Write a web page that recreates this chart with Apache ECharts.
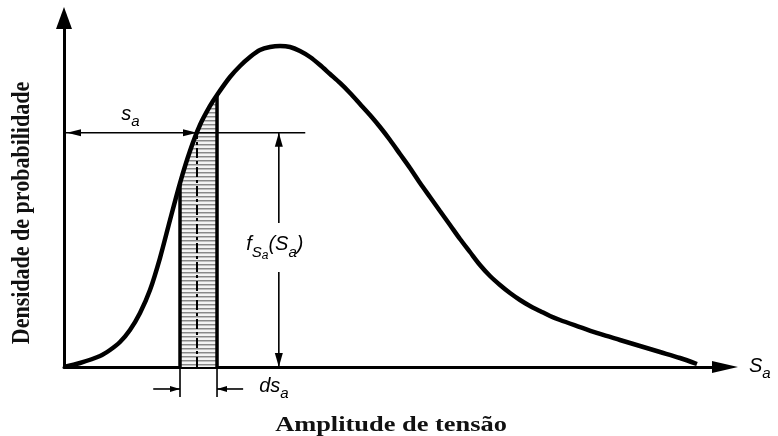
<!DOCTYPE html>
<html>
<head>
<meta charset="utf-8">
<script src="https://cdn.jsdelivr.net/npm/echarts@6/dist/echarts.min.js"></script>
<style>
html, body { margin: 0; padding: 0; background: #fff; }
#main { width: 778px; height: 436px; }
</style>
</head>
<body>
<div id="main"></div>
<script>
// curva de densidade (x = amplitude, y = densidade, escala 0..100)
var curveX = [0, 2.42, 5.45, 6.96, 8.47, 9.98, 11.50, 13.01, 14.52, 16.04, 17.55, 19.06, 20.57, 22.09, 23.15, 25.11, 26.63, 28.14, 29.65, 31.16, 32.68, 34.19, 35.70, 37.22, 38.73, 40.24, 41.75, 43.27, 44.78, 46.29, 47.81, 49.32, 50.83, 52.34, 53.86, 55.37, 56.88, 58.40, 59.91, 61.42, 62.93, 64.45, 65.96, 67.47, 68.99, 70.50, 72.01, 73.53, 75.04, 78.06, 81.09, 84.11, 87.14, 90.17, 93.19, 95.76];
var curveY = [0, 1.15, 3.15, 4.87, 7.16, 10.60, 15.47, 22.06, 31.23, 42.12, 52.72, 61.89, 69.34, 74.79, 77.94, 83.09, 86.25, 88.83, 90.83, 91.69, 91.98, 91.69, 90.54, 88.83, 86.53, 83.95, 81.38, 78.51, 75.36, 72.21, 68.77, 65.04, 61.03, 57.02, 52.72, 48.71, 44.70, 40.69, 36.68, 32.95, 29.23, 26.07, 23.50, 21.20, 19.20, 17.48, 16.05, 14.61, 13.47, 11.46, 9.46, 7.74, 6.02, 4.30, 2.58, 0.86];

// faixa ds_a e ponto s_a
var stripX = [17.55, 23.15];
var sampleX = [20.12];
var sampleY = [67.1];
var levelEnd = [36.5];     // fim da linha horizontal
var fArrowX = [32.5];      // seta vertical f(Sa)
var belowAxis = [-8.6, -6.3]; // fim das linhas de cota / nivel das setas
var dimArrowX = [13.5, 27.1];

var curve = curveX.map(function (x, i) { return [x, curveY[i]]; });
var strip = curve.filter(function (p) { return p[0] >= stripX[0] && p[0] <= stripX[1]; });

function curveAt(x) {
  return curveY[curveX.indexOf(x)];
}

// hachura horizontal
var pat = document.createElement('canvas');
pat.width = 4; pat.height = 4;
var pc = pat.getContext('2d');
pc.fillStyle = '#f3f3f3'; pc.fillRect(0, 0, 4, 4);
pc.fillStyle = '#888888'; pc.fillRect(0, 0, 4, 1);
pc.fillStyle = '#c0c0c0'; pc.fillRect(0, 1, 4, 1);

var mathFont = 'Liberation Sans';
var rich = {
  i: { fontFamily: mathFont, fontStyle: 'italic', fontSize: 20, lineHeight: 22, verticalAlign: 'top', color: '#000' },
  s: { fontFamily: mathFont, fontStyle: 'italic', fontSize: 15, lineHeight: 16, verticalAlign: 'top', padding: [10, 0, 0, 0], color: '#000' },
  ss: { fontFamily: mathFont, fontStyle: 'italic', fontSize: 12, lineHeight: 13, verticalAlign: 'top', padding: [15, 0, 0, 0], color: '#000' }
};

function seg(a, b, w, dash) {
  return { type: 'line', shape: { x1: a[0], y1: a[1], x2: b[0], y2: b[1] },
    style: { stroke: '#000', lineWidth: w, lineDash: dash || null } };
}
function head(tip, dx, dy, len, half) {
  var bx = tip[0] - dx * len, by = tip[1] - dy * len;
  return { type: 'polygon', shape: { points: [[tip[0], tip[1]], [bx - dy * half, by + dx * half], [bx + dy * half, by - dx * half]] },
    style: { fill: '#000' } };
}
function label(txt, x, y, align) {
  return { type: 'text', x: x, y: y,
    style: { text: txt, rich: rich, align: align, textAlign: align, verticalAlign: 'middle', textVerticalAlign: 'middle' } };
}

function drawNotes(params, api) {
  var c = api.coord;
  var kids = [];
  // bordas da faixa
  for (var k = 0; k < 2; k++) {
    var top = c([stripX[k], curveAt(stripX[k])]);
    var base = c([stripX[k], 0]);
    var low = c([stripX[k], belowAxis[0]]);
    kids.push(seg(base, top, 3.5));
    kids.push(seg(base, low, 1.6));
  }
  // traco-ponto
  kids.push(seg(c([sampleX[0], 0]), c([sampleX[0], sampleY[0]]), 2, [10, 3, 3, 3]));
  // linha s_a
  var l0 = c([0, sampleY[0]]), l1 = c([levelEnd[0], sampleY[0]]), ls = c([sampleX[0], sampleY[0]]);
  kids.push(seg(l0, l1, 1.6));
  kids.push(head([l0[0] + 3, l0[1]], -1, 0, 14, 3.5));
  kids.push(head(ls, 1, 0, 14, 3.5));
  kids.push(label('{i|s}{s|a}', (l0[0] + ls[0]) / 2, l0[1] - 17, 'center'));
  // seta f(Sa)
  var fTop = c([fArrowX[0], sampleY[0]]), fBot = c([fArrowX[0], 0]);
  var mid = (fTop[1] + fBot[1]) / 2;
  kids.push(seg(fTop, [fTop[0], mid - 27], 1.6));
  kids.push(seg([fBot[0], mid + 22], fBot, 1.6));
  kids.push(head(fTop, 0, -1, 14, 4));
  kids.push(head(fBot, 0, 1, 14, 4));
  kids.push(label('{i|f}{s|S}{ss|a}{i|(S}{s|a}{i|)}', fTop[0] - 4, mid - 4, 'center'));
  // cotas ds_a
  var dl = c([dimArrowX[0], belowAxis[1]]), dr = c([dimArrowX[1], belowAxis[1]]);
  var sl = c([stripX[0], belowAxis[1]]), sr = c([stripX[1], belowAxis[1]]);
  kids.push(seg(dl, sl, 1.6));
  kids.push(head(sl, 1, 0, 10, 3));
  kids.push(seg(dr, sr, 1.6));
  kids.push(head(sr, -1, 0, 10, 3));
  kids.push(label('{i|ds}{s|a}', dr[0] + 16, dr[1] - 2, 'left'));
  return { type: 'group', children: kids };
}

var chart = echarts.init(document.getElementById('main'));
var option = {
  animation: false,
  grid: { left: 64, right: 53, top: 18, bottom: 69, containLabel: false, outerBoundsMode: 'none' },
  xAxis: {
    type: 'value', min: 0, max: 100,
    axisLine: { show: true, symbol: ['none', 'triangle'], symbolSize: [12, 26], lineStyle: { color: '#000', width: 3 } },
    axisTick: { show: false }, axisLabel: { show: false }, splitLine: { show: false },
    name: '{i|S}{s|a}', nameLocation: 'end', nameGap: 24,
    nameTextStyle: { rich: rich, verticalAlign: 'middle' }
  },
  yAxis: {
    type: 'value', min: 0, max: 100,
    axisLine: { show: true, symbol: ['none', 'triangle'], symbolSize: [16, 22], lineStyle: { color: '#000', width: 3 } },
    axisTick: { show: false }, axisLabel: { show: false }, splitLine: { show: false }
  },
  graphic: [
    { type: 'text', x: 391, y: 425, scaleX: 1.2,
      style: { text: 'Amplitude de tensão', font: 'bold 22px "Liberation Serif"', fill: '#111',
        align: 'center', textAlign: 'center', verticalAlign: 'middle', textVerticalAlign: 'middle' } },
    { type: 'text', x: 22, y: 213, rotation: Math.PI / 2, scaleY: 1.17,
      style: { text: 'Densidade de probabilidade', font: 'bold 22px "Liberation Serif"', fill: '#111',
        align: 'center', textAlign: 'center', verticalAlign: 'middle', textVerticalAlign: 'middle' } }
  ],
  series: [
    {
      type: 'line', data: strip, symbol: 'none', silent: true,
      lineStyle: { width: 0 },
      areaStyle: { color: { image: pat, repeat: 'repeat' }, opacity: 1 },
      z: 1
    },
    {
      type: 'custom', coordinateSystem: 'cartesian2d', data: [[0, 0]],
      renderItem: drawNotes, silent: true, z: 3
    },
    {
      type: 'line', data: curve, symbol: 'none', smooth: 0.3, silent: true,
      lineStyle: { color: '#000', width: 4.5 },
      z: 4
    }
  ]
};
chart.setOption(option);
window.onresize = chart.resize;
</script>
</body>
</html>
